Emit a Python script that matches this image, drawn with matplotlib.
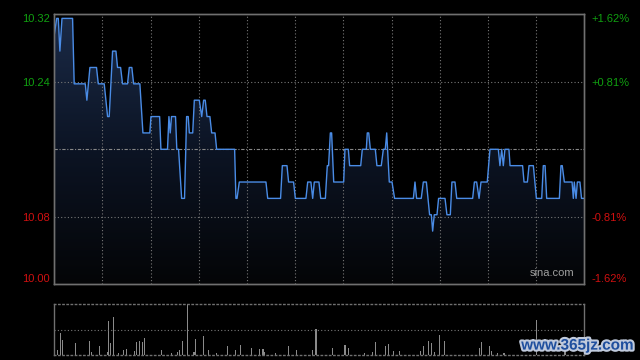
import matplotlib
matplotlib.use("Agg")
import matplotlib.pyplot as plt
import matplotlib.patheffects as pe
from matplotlib.colors import LinearSegmentedColormap
import numpy as np

plt.rcParams['font.family'] = ['Liberation Sans', 'DejaVu Sans']

# intraday price, minutes from open (0..330) and price at each turning point
minutes = [0, 1.5, 2.5, 3.5, 4.8, 11.4, 12.4, 19.3, 20.3, 22.2, 26.3, 27.4, 31.1, 33.2, 34.2,
           36.3, 38.4, 39.4, 41.3, 42.5, 45.6, 46.7, 48.3, 49.4, 53.3, 55.2, 59.5, 60.2, 65.6,
           66.4, 70.5, 71.4, 72.2, 73.0, 75.5, 76.3, 77.4, 79.3, 81.1, 82.4, 83.4, 84.1, 86.2,
           87.2, 90.3, 91.8, 93.0, 94.0, 95.1, 96.9, 98.0, 100.1, 101.1, 112.3, 113.1, 113.8,
           115.2, 131.8, 132.9, 140.9, 142.0, 144.9, 145.9, 149.0, 150.1, 156.7, 157.8, 159.8,
           160.9, 161.9, 164.8, 165.9, 168.8, 170.0, 170.8, 171.9, 172.7, 174.0, 180.2, 181.0,
           183.1, 183.9, 190.8, 191.8, 194.3, 194.9, 195.8, 196.8, 199.9, 200.9, 203.6, 204.9,
           206.1, 207.0, 208.6, 210.3, 211.9, 223.6, 224.6, 225.6, 228.5, 229.8, 231.7, 233.7,
           234.8, 235.6, 236.6, 238.3, 239.3, 243.3, 244.5, 246.6, 247.6, 249.5, 250.6, 260.5,
           261.6, 263.0, 264.5, 265.7, 269.6, 271.3, 276.5, 277.5, 278.6, 279.6, 280.6, 283.1,
           283.8, 291.6, 292.5, 294.6, 295.6, 298.3, 300.2, 303.5, 304.5, 305.6, 306.6, 314.5,
           315.5, 316.3, 317.6, 322.4, 323.2, 323.8, 324.9, 325.7, 327.3, 328.3, 330]
prices = [10.30, 10.32, 10.32, 10.28, 10.32, 10.32, 10.24, 10.24, 10.22, 10.26, 10.26, 10.24, 10.24, 10.20, 10.20,
          10.28, 10.28, 10.26, 10.26, 10.24, 10.24, 10.26, 10.26, 10.24, 10.24, 10.18, 10.18, 10.20, 10.20,
          10.16, 10.16, 10.20, 10.18, 10.20, 10.20, 10.16, 10.16, 10.10, 10.10, 10.20, 10.20, 10.18, 10.18,
          10.22, 10.22, 10.20, 10.22, 10.22, 10.20, 10.20, 10.18, 10.18, 10.16, 10.16, 10.10, 10.10,
          10.12, 10.12, 10.10, 10.10, 10.14, 10.14, 10.12, 10.12, 10.10, 10.10, 10.12, 10.12,
          10.10, 10.12, 10.12, 10.10, 10.10, 10.14, 10.14, 10.18, 10.18, 10.12, 10.12, 10.16,
          10.16, 10.14, 10.14, 10.16, 10.16, 10.18, 10.18, 10.16, 10.16, 10.14, 10.14, 10.16,
          10.16, 10.18, 10.12, 10.12, 10.10, 10.10, 10.12, 10.10, 10.10, 10.12, 10.12, 10.08,
          10.08, 10.06, 10.08, 10.08, 10.10, 10.10, 10.08, 10.08, 10.12, 10.12, 10.10, 10.10,
          10.12, 10.12, 10.10, 10.12, 10.12, 10.16, 10.16, 10.14, 10.16, 10.14, 10.16, 10.16,
          10.14, 10.14, 10.12, 10.12, 10.14, 10.14, 10.10, 10.10, 10.14, 10.14, 10.10, 10.10,
          10.14, 10.14, 10.12, 10.12, 10.10, 10.12, 10.10, 10.12, 10.12, 10.10, 10.10]

# volume bars (share of panel height, %)
vol_minutes = [0, 2, 4, 5, 13, 22, 23, 28, 33, 34, 35, 37, 40, 43, 45, 50, 51, 53, 55, 56, 67, 73,
               77, 78, 80, 83, 87, 88, 93, 96, 101, 108, 113, 116, 123, 128, 130, 131, 138, 146,
               151, 161, 163, 173, 181, 183, 193, 198, 200, 206, 208, 211, 215, 228, 230, 233,
               235, 237, 240, 243, 265, 266, 271, 272, 276, 280, 300, 318]
volumes = [31, 10, 43, 29, 24, 27, 6, 18, 6, 67, 24, 75, 4, 10, 12, 8, 25, 27, 25, 33, 10, 4,
           6, 10, 27, 100, 6, 31, 38, 10, 4, 18, 10, 20, 14, 12, 12, 6, 4, 18,
           10, 10, 51, 14, 20, 14, 4, 6, 25, 18, 22, 8, 8, 8, 18, 27,
           24, 6, 39, 27, 14, 25, 18, 8, 4, 4, 69, 8]

prev_close = 10.16
half_span = 0.165
left_labels = ['10.00', '10.08', '10.24', '10.32']
right_labels = ['-1.62%', '-0.81%', '+0.81%', '+1.62%']
label_colors = ['#d01010', '#d01010', '#10a010', '#10a010']

fig = plt.figure(figsize=(6.4, 3.6), dpi=100)
fig.patch.set_facecolor('black')

ax = fig.add_axes([0.0848, 0.2103, 0.8281, 0.75])
ax.set_facecolor('black')
ax.set_xlim(0, 330)
ax.set_ylim(prev_close - half_span, prev_close + half_span)

# gradient area under the line
grad = LinearSegmentedColormap.from_list('g', ['#040507', '#0c1424', '#1b2b48'])
img = ax.imshow(np.linspace(0, 1, 256).reshape(-1, 1), cmap=grad, aspect='auto', origin='lower',
                extent=[0, 330, prev_close - half_span, prev_close + half_span], zorder=1)
area = ax.fill_between(minutes, prices, prev_close - half_span, color='none')
img.set_clip_path(area.get_paths()[0], transform=ax.transData)

ax.plot(minutes, prices, color='#4a8ce6', lw=1.0, zorder=4)

for m in range(30, 330, 30):
    ax.axvline(m, color='#777777', lw=0.8, ls=(0, (1, 2)), zorder=2)
for f in (-0.5, 0.5):
    ax.axhline(prev_close + f * half_span, color='#777777', lw=0.8, ls=(0, (1, 2)), zorder=2)
ax.axhline(prev_close, color='#888888', lw=0.8, ls=(0, (3, 1.5, 1, 1.5)), zorder=3)

ticks = [prev_close - half_span, prev_close - half_span / 2,
         prev_close + half_span / 2, prev_close + half_span]
ax.set_xticks([])
ax.set_yticks(ticks)
ax.set_yticklabels(left_labels, fontsize=8)
ax.tick_params(axis='y', length=0, pad=3)
for lab, c in zip(ax.get_yticklabels(), label_colors):
    lab.set_color(c)
ax.get_yticklabels()[0].set_va('bottom')
ax.get_yticklabels()[-1].set_va('top')

ax2 = ax.twinx()
ax2.set_ylim(ax.get_ylim())
ax2.set_yticks(ticks)
ax2.set_yticklabels(right_labels, fontsize=8)
ax2.tick_params(axis='y', length=0, pad=5)
for lab, c in zip(ax2.get_yticklabels(), label_colors):
    lab.set_color(c)
ax2.get_yticklabels()[0].set_va('bottom')
ax2.get_yticklabels()[-1].set_va('top')

for a in (ax, ax2):
    for s in a.spines.values():
        s.set_color('#707070')
        s.set_linewidth(1)

ax.text(0.982, 0.022, 'sina.com', transform=ax.transAxes, ha='right', va='bottom',
        color='#a0a0a0', fontsize=8, zorder=5)

# volume panel
vax = fig.add_axes([0.0848, 0.0139, 0.8281, 0.1408])
vax.set_facecolor('black')
vax.bar(vol_minutes, volumes, width=0.7, color='#8a8a8a')
vax.set_xlim(0, 330)
vax.set_ylim(0, 100)
vax.axhline(50, color='#777777', lw=0.8, ls=(0, (1, 2)))
vax.set_xticks([])
vax.set_yticks([])
for name, s in vax.spines.items():
    s.set_color('#707070')
    s.set_linewidth(1)
vax.spines['top'].set_linestyle((0, (1, 2)))
vax.spines['bottom'].set_linestyle((0, (1, 2)))

fig.text(0.99, 0.04, 'www.365jz.com', ha='right', va='center', fontsize=11, fontweight='bold',
         color='#1f4f9e', path_effects=[pe.withStroke(linewidth=3, foreground='#c0cadc')])

plt.savefig('out.png', dpi=100, facecolor='black')
